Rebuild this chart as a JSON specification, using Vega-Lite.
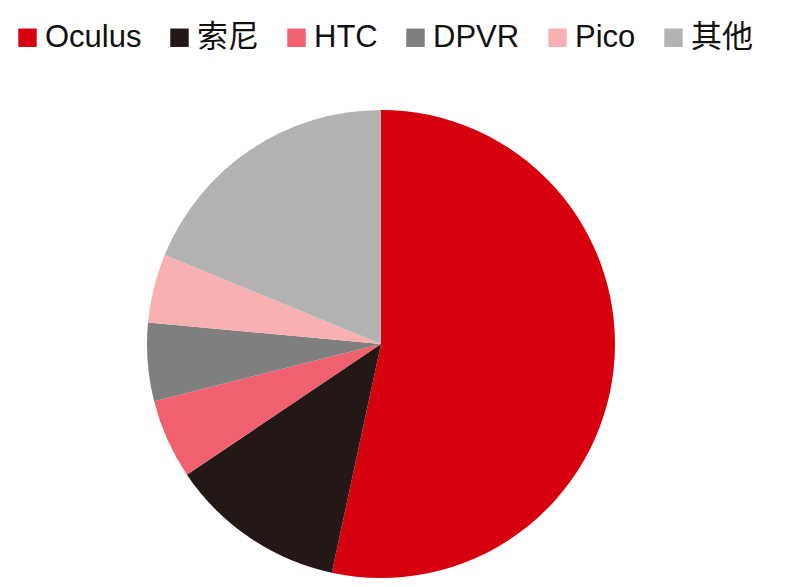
{
  "$schema": "https://vega.github.io/schema/vega-lite/v6.json",
  "autosize": "none",
  "width": 762,
  "height": 468,
  "padding": {"left": 0, "top": 110, "right": 38, "bottom": 9},
  "background": "white",
  "view": {"stroke": null},
  "data": {"values": [
    {"brand": "Oculus", "share": 53.4, "order": 1},
    {"brand": "索尼", "share": 12.2, "order": 2},
    {"brand": "HTC", "share": 5.5, "order": 3},
    {"brand": "DPVR", "share": 5.4, "order": 4},
    {"brand": "Pico", "share": 4.75, "order": 5},
    {"brand": "其他", "share": 18.8, "order": 6}
  ]},
  "mark": {"type": "arc", "outerRadius": 234, "stroke": null},
  "encoding": {
    "theta": {"field": "share", "type": "quantitative", "stack": true},
    "order": {"field": "order", "type": "quantitative", "sort": "ascending"},
    "color": {
      "field": "brand",
      "type": "nominal",
      "scale": {
        "domain": ["Oculus", "索尼", "HTC", "DPVR", "Pico", "其他"],
        "range": ["#D7000F", "#231815", "#F0606F", "#7F7F7F", "#F9B0B3", "#B3B3B3"]
      },
      "legend": {
        "title": null,
        "orient": "none",
        "legendX": 12,
        "legendY": -88,
        "direction": "horizontal",
        "columns": 6,
        "symbolType": "square",
        "symbolSize": 340,
        "symbolStrokeWidth": 0,
        "labelFont": "Liberation Sans, Noto Sans CJK SC",
        "labelFontSize": 31,
        "labelColor": "#111111",
        "labelOffset": 2,
        "labelLimit": 300,
        "columnPadding": 22
      }
    }
  }
}
